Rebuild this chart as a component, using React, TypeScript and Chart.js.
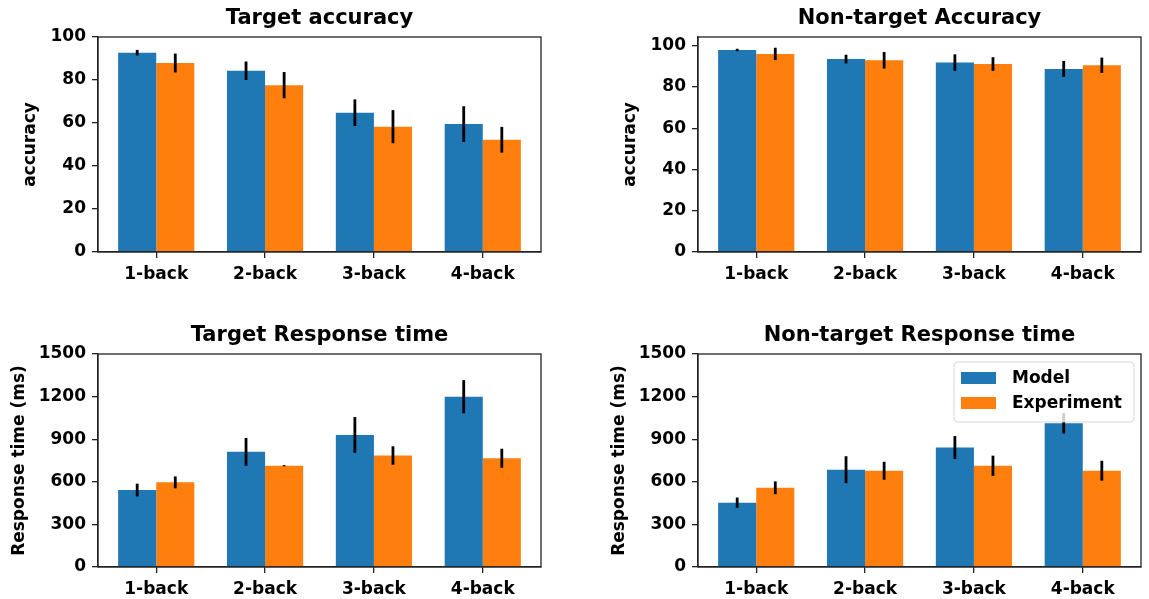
import React, { useEffect, useRef } from "react";
import { Chart, registerables } from "chart.js";
Chart.register(...registerables);

// ---------- data ----------
const categories = ["1-back", "2-back", "3-back", "4-back"];
const seriesNames = ["Model", "Experiment"];

const targetAccModel = [92.7, 84.3, 64.8, 59.5];
const targetAccModelErr = [1.3, 4.3, 6.2, 8.3];
const targetAccExp = [87.9, 77.6, 58.3, 52.2];
const targetAccExpErr = [4.4, 6.1, 7.7, 6.0];

const nonTargetAccModel = [97.9, 93.5, 91.8, 88.7];
const nonTargetAccModelErr = [0.6, 2.1, 4.0, 3.9];
const nonTargetAccExp = [96.0, 92.9, 91.1, 90.5];
const nonTargetAccExpErr = [3.0, 4.0, 3.3, 3.7];

const targetRtModel = [542, 811, 930, 1199];
const targetRtModelErr = [45, 98, 126, 117];
const targetRtExp = [596, 713, 785, 766];
const targetRtExpErr = [42, 4, 65, 67];

const nonTargetRtModel = [453, 685, 841, 1012];
const nonTargetRtModelErr = [36, 95, 81, 72];
const nonTargetRtExp = [558, 678, 713, 678];
const nonTargetRtExpErr = [45, 63, 71, 70];

const accuracyTicks = [0, 20, 40, 60, 80, 100];
const rtTicks = [0, 300, 600, 900, 1200, 1500];

// ---------- styles ----------
const COLORS = ["#1f77b4", "#ff7f0e"];
const FONT = "'DejaVu Sans', 'Liberation Sans', sans-serif";
const AXIS_COLOR = "#222";

type Rect = { x: number; y: number; w: number; h: number };
type Frame = { left: number; top: number; right: number; bottom: number };

type PanelSpec = {
  title: string;
  yTitle: string;
  model: number[];
  modelErr: number[];
  exp: number[];
  expErr: number[];
  yMax: number;
  yTicks: number[];
  canvas: Rect;
  frame: Frame;
  yTitleOffset: number;
  legend: boolean;
};

const panels: PanelSpec[] = [
  {
    title: "Target accuracy",
    yTitle: "accuracy",
    model: targetAccModel,
    modelErr: targetAccModelErr,
    exp: targetAccExp,
    expErr: targetAccExpErr,
    yMax: 100,
    yTicks: accuracyTicks,
    canvas: { x: 0, y: 0, w: 574, h: 300 },
    frame: { left: 98, top: 37, right: 541, bottom: 252 },
    yTitleOffset: 67,
    legend: false,
  },
  {
    title: "Non-target Accuracy",
    yTitle: "accuracy",
    model: nonTargetAccModel,
    modelErr: nonTargetAccModelErr,
    exp: nonTargetAccExp,
    expErr: nonTargetAccExpErr,
    yMax: 104.2,
    yTicks: accuracyTicks,
    canvas: { x: 574, y: 0, w: 575, h: 300 },
    frame: { left: 698, top: 37, right: 1141, bottom: 252 },
    yTitleOffset: 67,
    legend: false,
  },
  {
    title: "Target Response time",
    yTitle: "Response time (ms)",
    model: targetRtModel,
    modelErr: targetRtModelErr,
    exp: targetRtExp,
    expErr: targetRtExpErr,
    yMax: 1500,
    yTicks: rtTicks,
    canvas: { x: 0, y: 300, w: 574, h: 299 },
    frame: { left: 98, top: 354, right: 541, bottom: 567 },
    yTitleOffset: 78,
    legend: false,
  },
  {
    title: "Non-target Response time",
    yTitle: "Response time (ms)",
    model: nonTargetRtModel,
    modelErr: nonTargetRtModelErr,
    exp: nonTargetRtExp,
    expErr: nonTargetRtExpErr,
    yMax: 1500,
    yTicks: rtTicks,
    canvas: { x: 574, y: 300, w: 575, h: 299 },
    frame: { left: 698, top: 354, right: 1141, bottom: 567 },
    yTitleOffset: 78,
    legend: true,
  },
];

function makePanelPlugin(spec: PanelSpec) {
  return {
    id: "panelDecor",
    afterDatasetsDraw(chart: any) {
      const ctx = chart.ctx as CanvasRenderingContext2D;
      const ys = chart.scales.y;
      const area = chart.chartArea;
      // error bars
      ctx.save();
      ctx.strokeStyle = "#000";
      ctx.lineWidth = 2.8;
      ctx.lineCap = "butt";
      chart.data.datasets.forEach((ds: any, di: number) => {
        const meta = chart.getDatasetMeta(di);
        meta.data.forEach((el: any, i: number) => {
          const v = ds.data[i].y;
          const e = ds.errors[i];
          ctx.beginPath();
          ctx.moveTo(el.x, ys.getPixelForValue(v - e));
          ctx.lineTo(el.x, ys.getPixelForValue(v + e));
          ctx.stroke();
        });
      });
      ctx.restore();
      // frame
      ctx.save();
      ctx.strokeStyle = AXIS_COLOR;
      ctx.lineWidth = 1.3;
      ctx.strokeRect(area.left, area.top, area.right - area.left, area.bottom - area.top);
      ctx.restore();
      // legend
      if (spec.legend) {
        const bw = 180;
        const bh = 60;
        const bx = area.right - 7 - bw;
        const by = area.top + 8;
        ctx.save();
        ctx.beginPath();
        const r = 4;
        ctx.moveTo(bx + r, by);
        ctx.lineTo(bx + bw - r, by);
        ctx.arcTo(bx + bw, by, bx + bw, by + r, r);
        ctx.lineTo(bx + bw, by + bh - r);
        ctx.arcTo(bx + bw, by + bh, bx + bw - r, by + bh, r);
        ctx.lineTo(bx + r, by + bh);
        ctx.arcTo(bx, by + bh, bx, by + bh - r, r);
        ctx.lineTo(bx, by + r);
        ctx.arcTo(bx, by, bx + r, by, r);
        ctx.closePath();
        ctx.fillStyle = "rgba(255,255,255,0.8)";
        ctx.fill();
        ctx.strokeStyle = "rgba(204,204,204,0.8)";
        ctx.lineWidth = 1;
        ctx.stroke();
        ctx.font = `bold 17px ${FONT}`;
        ctx.textBaseline = "middle";
        ctx.textAlign = "left";
        chart.data.datasets.forEach((ds: any, di: number) => {
          const cy = by + 16 + di * 25;
          ctx.fillStyle = ds.backgroundColor;
          ctx.fillRect(bx + 7, cy - 6, 35, 12);
          ctx.fillStyle = "#000";
          ctx.fillText(ds.label, bx + 58, cy + 1);
        });
        ctx.restore();
      }
    },
    afterDraw(chart: any) {
      const ctx = chart.ctx as CanvasRenderingContext2D;
      const area = chart.chartArea;
      ctx.save();
      ctx.fillStyle = "#000";
      ctx.font = `bold 21px ${FONT}`;
      ctx.textAlign = "center";
      ctx.textBaseline = "alphabetic";
      ctx.fillText(spec.title, (area.left + area.right) / 2, area.top - 13);
      ctx.font = `bold 17px ${FONT}`;
      ctx.translate(area.left - spec.yTitleOffset, (area.top + area.bottom) / 2);
      ctx.rotate(-Math.PI / 2);
      ctx.textBaseline = "middle";
      ctx.fillText(spec.yTitle, 0, 0);
      ctx.restore();
    },
  };
}

function Panel({ spec }: { spec: PanelSpec }) {
  const ref = useRef<HTMLCanvasElement>(null);
  useEffect(() => {
    const c = spec.canvas;
    const f = spec.frame;
    const yAxisWidth = f.left - c.x;
    const xAxisHeight = c.y + c.h - f.bottom;
    const padTop = f.top - c.y;
    const padRight = c.x + c.w - f.right;
    const tickFont = { family: FONT, size: 17, weight: "bold" as const };
    const chart = new Chart(ref.current as HTMLCanvasElement, {
      type: "bar",
      data: {
        datasets: [
          {
            label: seriesNames[0],
            data: spec.model.map((v, i) => ({ x: i, y: v })),
            backgroundColor: COLORS[0],
            borderWidth: 0,
            errors: spec.modelErr,
          } as any,
          {
            label: seriesNames[1],
            data: spec.exp.map((v, i) => ({ x: i, y: v })),
            backgroundColor: COLORS[1],
            borderWidth: 0,
            errors: spec.expErr,
          } as any,
        ],
      },
      options: {
        animation: false,
        responsive: false,
        maintainAspectRatio: false,
        devicePixelRatio: 1,
        layout: { padding: { top: padTop, right: padRight, left: 0, bottom: 0 } },
        datasets: { bar: { categoryPercentage: 0.7, barPercentage: 1.0, grouped: true } },
        plugins: {
          legend: { display: false },
          tooltip: { enabled: false },
          title: { display: false },
        },
        scales: {
          x: {
            type: "linear",
            offset: false,
            min: -0.535,
            max: categories.length - 1 + 0.535,
            afterBuildTicks: (s: any) => {
              s.ticks = categories.map((_, i) => ({ value: i }));
            },
            afterFit: (s: any) => {
              s.height = xAxisHeight;
            },
            ticks: {
              callback: (v: any) => categories[Math.round(Number(v))],
              font: tickFont,
              color: "#000",
              padding: 6,
              autoSkip: false,
              maxRotation: 0,
            },
            grid: {
              offset: false,
              drawOnChartArea: false,
              drawTicks: true,
              tickLength: 6,
              color: AXIS_COLOR,
              lineWidth: 1.3,
            },
            border: { display: true, color: AXIS_COLOR, width: 1.3 },
          },
          y: {
            type: "linear",
            min: 0,
            max: spec.yMax,
            afterBuildTicks: (s: any) => {
              s.ticks = spec.yTicks.map((v) => ({ value: v }));
            },
            afterFit: (s: any) => {
              s.width = yAxisWidth;
            },
            ticks: {
              callback: (v: any) => String(v),
              font: tickFont,
              color: "#000",
              padding: 6,
            },
            grid: {
              drawOnChartArea: false,
              drawTicks: true,
              tickLength: 6,
              color: AXIS_COLOR,
              lineWidth: 1.3,
            },
            border: { display: true, color: AXIS_COLOR, width: 1.3 },
          },
        },
      } as any,
      plugins: [makePanelPlugin(spec)],
    });
    return () => chart.destroy();
  }, [spec]);
  const c = spec.canvas;
  return (
    <canvas
      ref={ref}
      width={c.w}
      height={c.h}
      style={{ position: "absolute", left: c.x, top: c.y, width: c.w, height: c.h }}
    />
  );
}

export default function App() {
  return (
    <div
      style={{
        position: "absolute",
        left: 0,
        top: 0,
        width: 1149,
        height: 599,
        background: "#fff",
        overflow: "hidden",
      }}
    >
      {panels.map((p) => (
        <Panel key={p.title} spec={p} />
      ))}
    </div>
  );
}
